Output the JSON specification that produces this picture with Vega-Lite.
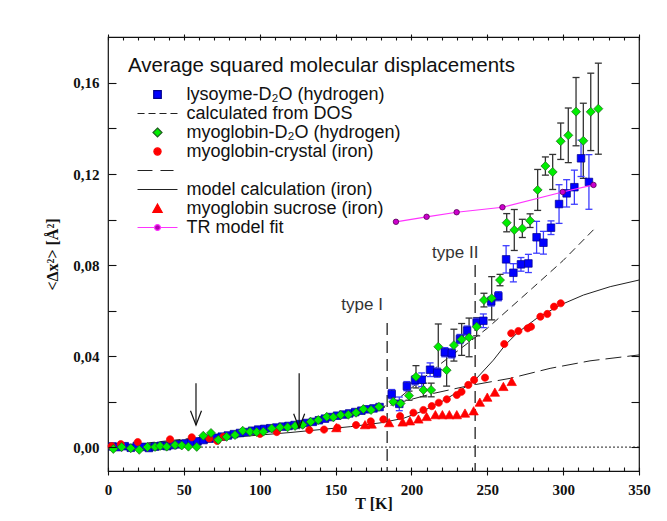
{
"$schema": "https://vega.github.io/schema/vega-lite/v6.json",
"width": 531, "height": 434,
"autosize": {"type": "none"},
"padding": {"left": 108, "top": 37, "right": 28, "bottom": 50},
"background": "white",
"config": {
  "view": {"stroke": "#111", "strokeWidth": 1.2},
  "axis": {"grid": false, "domainColor": "#111", "tickColor": "#111", "domainWidth": 1.2, "tickWidth": 1.1, "ticks": true, "zindex": 2,
    "labelFont": "Liberation Serif", "labelFontWeight": "bold", "labelFontSize": 15, "labelColor": "#111",
    "titleFont": "Liberation Serif", "titleFontWeight": "bold", "titleFontSize": 15, "titleColor": "#111"}
},
"resolve": {"axis": {"x": "independent", "y": "independent"}},
"datasets": {
  "markers": [
    {"s":"lys","T":3,"v":0.0003},{"s":"lys","T":7,"v":0.0},{"s":"lys","T":11,"v":0.0004},{"s":"lys","T":15,"v":-0.0003},{"s":"lys","T":19,"v":0.0005},{"s":"lys","T":23,"v":0.0001},{"s":"lys","T":27,"v":-0.0004},{"s":"lys","T":31,"v":0.0002},{"s":"lys","T":35,"v":0.0006},{"s":"lys","T":39,"v":0.0004},{"s":"lys","T":43,"v":0.0009},{"s":"lys","T":47,"v":0.0012},{"s":"lys","T":51,"v":0.0016},{"s":"lys","T":55,"v":0.0019},{"s":"lys","T":59,"v":0.0025},{"s":"lys","T":63,"v":0.0031},{"s":"lys","T":67,"v":0.0037},{"s":"lys","T":71,"v":0.0041},{"s":"lys","T":75,"v":0.0046},{"s":"lys","T":79,"v":0.0051},{"s":"lys","T":83,"v":0.0057},{"s":"lys","T":87,"v":0.0062},{"s":"lys","T":91,"v":0.0066},{"s":"lys","T":95,"v":0.0072},{"s":"lys","T":99,"v":0.0077},{"s":"lys","T":103,"v":0.008},{"s":"lys","T":107,"v":0.0083},{"s":"lys","T":111,"v":0.0086},{"s":"lys","T":115,"v":0.009},{"s":"lys","T":119,"v":0.0093},{"s":"lys","T":123,"v":0.0097},{"s":"lys","T":127,"v":0.0101},{"s":"lys","T":131,"v":0.0106},{"s":"lys","T":135,"v":0.0111},{"s":"lys","T":139,"v":0.0118},{"s":"lys","T":143,"v":0.0125},{"s":"lys","T":147,"v":0.0132},{"s":"lys","T":151,"v":0.0138},{"s":"lys","T":155,"v":0.0143},{"s":"lys","T":159,"v":0.0148},{"s":"lys","T":163,"v":0.0154},{"s":"lys","T":167,"v":0.016},{"s":"lys","T":171,"v":0.0166},{"s":"lys","T":175,"v":0.017},{"s":"lys","T":179,"v":0.0176},
    {"s":"lys","T":187,"v":0.0233,"lo":0.0213,"hi":0.0253},{"s":"lys","T":192,"v":0.019,"lo":0.016,"hi":0.022},{"s":"lys","T":197,"v":0.0268,"lo":0.0248,"hi":0.0288},{"s":"lys","T":202.4,"v":0.0294,"lo":0.0274,"hi":0.0314},{"s":"lys","T":206.8,"v":0.0296,"lo":0.0266,"hi":0.0326},{"s":"lys","T":212.3,"v":0.034,"lo":0.031,"hi":0.037},{"s":"lys","T":217,"v":0.0327,"lo":0.0307,"hi":0.0347},{"s":"lys","T":222,"v":0.0417,"lo":0.0397,"hi":0.0437},{"s":"lys","T":226.6,"v":0.0412,"lo":0.0392,"hi":0.0432},{"s":"lys","T":232,"v":0.0475,"lo":0.0455,"hi":0.0495},{"s":"lys","T":236.7,"v":0.0512,"lo":0.0492,"hi":0.0532},{"s":"lys","T":243,"v":0.0546,"lo":0.0526,"hi":0.0566},{"s":"lys","T":247.4,"v":0.0555,"lo":0.0525,"hi":0.0585},{"s":"lys","T":252.6,"v":0.064,"lo":0.062,"hi":0.066},{"s":"lys","T":257.3,"v":0.0663,"lo":0.0643,"hi":0.0683},{"s":"lys","T":262.4,"v":0.0825,"lo":0.0765,"hi":0.0885},{"s":"lys","T":267.2,"v":0.0766,"lo":0.0726,"hi":0.0806},{"s":"lys","T":272.2,"v":0.0803,"lo":0.0773,"hi":0.0833},{"s":"lys","T":277.1,"v":0.0807,"lo":0.0767,"hi":0.0847},{"s":"lys","T":282.5,"v":0.0922,"lo":0.0852,"hi":0.0992},{"s":"lys","T":287,"v":0.0898,"lo":0.0848,"hi":0.0948},{"s":"lys","T":292,"v":0.0964,"lo":0.0934,"hi":0.0994},{"s":"lys","T":297.3,"v":0.1068,"lo":0.0983,"hi":0.1153},{"s":"lys","T":302.3,"v":0.1115,"lo":0.1055,"hi":0.1175},{"s":"lys","T":307.4,"v":0.1142,"lo":0.1067,"hi":0.1217},{"s":"lys","T":311.8,"v":0.1269,"lo":0.1189,"hi":0.1349},{"s":"lys","T":317,"v":0.1165,"lo":0.1045,"hi":0.1285},
    {"s":"myoC","T":2.4,"v":0.0004},{"s":"myoC","T":8.4,"v":0.0013},{"s":"myoC","T":19.6,"v":0.0022},{"s":"myoC","T":40.9,"v":0.0034},{"s":"myoC","T":55.2,"v":0.0043},{"s":"myoC","T":66.8,"v":0.0038},{"s":"myoC","T":72,"v":0.0027},{"s":"myoC","T":76,"v":0.0045},{"s":"myoC","T":100.2,"v":0.0058},{"s":"myoC","T":111.2,"v":0.0066},{"s":"myoC","T":132.7,"v":0.0075},{"s":"myoC","T":142.4,"v":0.0077},{"s":"myoC","T":151.2,"v":0.0085},{"s":"myoC","T":163.5,"v":0.0097},{"s":"myoC","T":173.2,"v":0.0113},{"s":"myoC","T":181.5,"v":0.0122},{"s":"myoC","T":192.5,"v":0.0136},{"s":"myoC","T":201.3,"v":0.0151},{"s":"myoC","T":207.9,"v":0.0163},{"s":"myoC","T":213.4,"v":0.018},{"s":"myoC","T":218,"v":0.0195},{"s":"myoC","T":223.3,"v":0.021},{"s":"myoC","T":229.9,"v":0.0229},{"s":"myoC","T":233,"v":0.0243},{"s":"myoC","T":237.5,"v":0.0273},{"s":"myoC","T":241.3,"v":0.0295},{"s":"myoC","T":248.5,"v":0.0305},{"s":"myoC","T":261.2,"v":0.0453},{"s":"myoC","T":265.8,"v":0.05},{"s":"myoC","T":270.5,"v":0.051},{"s":"myoC","T":276.6,"v":0.0522},{"s":"myoC","T":278.8,"v":0.0529},{"s":"myoC","T":285,"v":0.0573},{"s":"myoC","T":289.6,"v":0.0585},{"s":"myoC","T":294,"v":0.0617},{"s":"myoC","T":298.4,"v":0.0632},
    {"s":"suc","T":150.5,"v":0.0084},{"s":"suc","T":169.4,"v":0.0097},{"s":"suc","T":173.8,"v":0.01},{"s":"suc","T":185.3,"v":0.0106},{"s":"suc","T":194.2,"v":0.0109},{"s":"suc","T":199,"v":0.0114},{"s":"suc","T":204.6,"v":0.0122},{"s":"suc","T":210,"v":0.0133},{"s":"suc","T":215.8,"v":0.0141},{"s":"suc","T":220.4,"v":0.0141},{"s":"suc","T":225,"v":0.0141},{"s":"suc","T":229.9,"v":0.0141},{"s":"suc","T":235.3,"v":0.0148},{"s":"suc","T":241,"v":0.0158},{"s":"suc","T":245.1,"v":0.0196},{"s":"suc","T":250,"v":0.0218},{"s":"suc","T":255,"v":0.024},{"s":"suc","T":260.6,"v":0.0265},{"s":"suc","T":266.1,"v":0.0287},
    {"s":"myoD","T":3.5,"v":-0.0008},{"s":"myoD","T":9,"v":0.0},{"s":"myoD","T":15,"v":-0.0005},{"s":"myoD","T":20.6,"v":-0.0012},{"s":"myoD","T":26,"v":0.0},{"s":"myoD","T":31,"v":0.0001},{"s":"myoD","T":34.3,"v":0.0005},{"s":"myoD","T":38.7,"v":0.0002},{"s":"myoD","T":44.2,"v":0.0009},{"s":"myoD","T":48.6,"v":0.0007},{"s":"myoD","T":53,"v":0.0002},{"s":"myoD","T":58.5,"v":0.0001},{"s":"myoD","T":62.8,"v":0.005},{"s":"myoD","T":67.9,"v":0.0062},{"s":"myoD","T":72.7,"v":0.0032},{"s":"myoD","T":78.2,"v":0.0045},{"s":"myoD","T":83.7,"v":0.0053},{"s":"myoD","T":88.8,"v":0.0072},{"s":"myoD","T":93.6,"v":0.0067},{"s":"myoD","T":98,"v":0.0066},{"s":"myoD","T":102.4,"v":0.0068},{"s":"myoD","T":107.9,"v":0.0082},{"s":"myoD","T":113.4,"v":0.0087},{"s":"myoD","T":118.4,"v":0.0087},{"s":"myoD","T":123.3,"v":0.0093},{"s":"myoD","T":128.3,"v":0.0098},{"s":"myoD","T":133.6,"v":0.0111},{"s":"myoD","T":138.6,"v":0.0119},{"s":"myoD","T":144.2,"v":0.0133},{"s":"myoD","T":148.5,"v":0.0131},{"s":"myoD","T":153.4,"v":0.0141},{"s":"myoD","T":158.4,"v":0.0142},{"s":"myoD","T":163.5,"v":0.0151},{"s":"myoD","T":168.3,"v":0.0167},{"s":"myoD","T":173.4,"v":0.0163},{"s":"myoD","T":178.6,"v":0.0177},{"s":"myoD","T":188,"v":0.0199},{"s":"myoD","T":192.9,"v":0.0192},
    {"s":"myoD","T":198.4,"v":0.0226,"lo":0.0206,"hi":0.0246},{"s":"myoD","T":203,"v":0.0309,"lo":0.026,"hi":0.0358},{"s":"myoD","T":207.9,"v":0.0251,"lo":0.0221,"hi":0.0281},{"s":"myoD","T":213,"v":0.0251,"lo":0.0221,"hi":0.0281},{"s":"myoD","T":217.7,"v":0.0441,"lo":0.0341,"hi":0.0541},{"s":"myoD","T":223.2,"v":0.0338,"lo":0.0268,"hi":0.0408},{"s":"myoD","T":228,"v":0.0448,"lo":0.0378,"hi":0.0518},{"s":"myoD","T":233.1,"v":0.0473,"lo":0.0403,"hi":0.0543},{"s":"myoD","T":238,"v":0.0482,"lo":0.0397,"hi":0.0567},{"s":"myoD","T":243,"v":0.0529,"lo":0.0489,"hi":0.0569},{"s":"myoD","T":247.8,"v":0.0646,"lo":0.0616,"hi":0.0676},{"s":"myoD","T":252.9,"v":0.0654,"lo":0.0559,"hi":0.0749},{"s":"myoD","T":258.4,"v":0.0734,"lo":0.0709,"hi":0.0759},{"s":"myoD","T":262.8,"v":0.0986,"lo":0.0946,"hi":0.1026},{"s":"myoD","T":267.8,"v":0.0954,"lo":0.0864,"hi":0.1044},{"s":"myoD","T":273.1,"v":0.0961,"lo":0.0921,"hi":0.1001},{"s":"myoD","T":278.2,"v":0.0995,"lo":0.0965,"hi":0.1025},{"s":"myoD","T":283.2,"v":0.113,"lo":0.104,"hi":0.122},{"s":"myoD","T":288.3,"v":0.1235,"lo":0.1195,"hi":0.1275},{"s":"myoD","T":293.1,"v":0.1209,"lo":0.1132,"hi":0.1286},{"s":"myoD","T":298.4,"v":0.1344,"lo":0.1264,"hi":0.1424},{"s":"myoD","T":303.4,"v":0.137,"lo":0.125,"hi":0.149},{"s":"myoD","T":308.5,"v":0.1474,"lo":0.1324,"hi":0.1624},{"s":"myoD","T":313.3,"v":0.1346,"lo":0.1181,"hi":0.1511},{"s":"myoD","T":318.2,"v":0.1473,"lo":0.1303,"hi":0.1643},{"s":"myoD","T":323.2,"v":0.1487,"lo":0.1287,"hi":0.1687}
  ],
  "model": [{"T":0,"v":0.0003},{"T":20,"v":0.0011},{"T":40,"v":0.002},{"T":60,"v":0.0031},{"T":80,"v":0.0042},{"T":100,"v":0.0053},{"T":120,"v":0.0064},{"T":140,"v":0.0077},{"T":160,"v":0.009},{"T":180,"v":0.0107},{"T":195,"v":0.0127},{"T":208,"v":0.016},{"T":220,"v":0.02},{"T":230,"v":0.024},{"T":241,"v":0.0288},{"T":254,"v":0.0382},{"T":262,"v":0.045},{"T":270,"v":0.0503},{"T":282.6,"v":0.0566},{"T":298,"v":0.0624},{"T":313.3,"v":0.0668},{"T":331,"v":0.0705},{"T":350,"v":0.0734}],
  "dashmodel": [{"T":0,"v":0.0},{"T":50,"v":0.003},{"T":100,"v":0.0078},{"T":150,"v":0.0135},{"T":180,"v":0.017},{"T":190,"v":0.0192},{"T":214.5,"v":0.0236},{"T":236.5,"v":0.0268},{"T":265,"v":0.0302},{"T":291.4,"v":0.0346},{"T":317.7,"v":0.0379},{"T":350,"v":0.0405}],
  "dos": [{"T":0,"v":0.0},{"T":60,"v":0.0042},{"T":120,"v":0.0097},{"T":180,"v":0.0172},{"T":190,"v":0.0205},{"T":220,"v":0.037},{"T":250,"v":0.0522},{"T":280,"v":0.07},{"T":300,"v":0.082},{"T":320,"v":0.0955}],
  "tr": [{"T":189.8,"v":0.099},{"T":210,"v":0.1012},{"T":229.8,"v":0.1032},{"T":260,"v":0.1054},{"T":299.7,"v":0.1121},{"T":320,"v":0.1152}]
},
"layer": [
  {"data": {"values": [{}]},
   "mark": {"type": "rule", "stroke": "#222", "strokeWidth": 1, "strokeDash": [2, 2]},
   "encoding": {"y": {"datum": 0, "type": "quantitative", "scale": {"domain": [-0.0105, 0.1802], "nice": false, "zero": false}, "axis": null}}},
  {"data": {"values": [{}]},
   "mark": {"type": "rule", "stroke": "#222", "strokeWidth": 1.3, "strokeDash": [12, 6]},
   "encoding": {"x": {"datum": 184, "type": "quantitative", "scale": {"domain": [0, 350], "nice": false, "zero": false}, "axis": null},
     "y": {"datum": 0.0545, "type": "quantitative", "scale": {"domain": [-0.0105, 0.1802], "nice": false, "zero": false}, "axis": null},
     "y2": {"datum": -0.0105}}},
  {"data": {"values": [{}]},
   "mark": {"type": "rule", "stroke": "#222", "strokeWidth": 1.3, "strokeDash": [12, 6]},
   "encoding": {"x": {"datum": 242, "type": "quantitative", "scale": {"domain": [0, 350], "nice": false, "zero": false}, "axis": null},
     "y": {"datum": 0.08, "type": "quantitative", "scale": {"domain": [-0.0105, 0.1802], "nice": false, "zero": false}, "axis": null},
     "y2": {"datum": -0.0105}}},
  {"data": {"name": "dos"},
   "mark": {"type": "line", "stroke": "#222", "strokeWidth": 1, "strokeDash": [8, 5]},
   "encoding": {"x": {"field": "T", "type": "quantitative", "scale": {"domain": [0, 350], "nice": false, "zero": false}, "axis": null},
     "y": {"field": "v", "type": "quantitative", "scale": {"domain": [-0.0105, 0.1802], "nice": false, "zero": false},
       "axis": {"orient": "right", "values": [0,0.02,0.04,0.06,0.08,0.1,0.12,0.14,0.16], "offset": -8, "ticks": true, "tickSize": 8, "tickColor": "#111", "tickOpacity": 1, "tickWidth": 1.1, "labels": false, "domain": false, "title": null, "zindex": 2}}}},
  {"data": {"name": "dashmodel"},
   "mark": {"type": "line", "stroke": "#222", "strokeWidth": 1, "strokeDash": [16, 6]},
   "encoding": {"x": {"field": "T", "type": "quantitative", "scale": {"domain": [0, 350], "nice": false, "zero": false}, "axis": null},
     "y": {"field": "v", "type": "quantitative", "scale": {"domain": [-0.0105, 0.1802], "nice": false, "zero": false}, "axis": null}}},
  {"data": {"name": "model"},
   "mark": {"type": "line", "stroke": "#222", "strokeWidth": 1},
   "encoding": {"x": {"field": "T", "type": "quantitative", "scale": {"domain": [0, 350], "nice": false, "zero": false},
       "axis": {"orient": "bottom", "values": [0,10,20,30,40,50,60,70,80,90,100,110,120,130,140,150,160,170,180,190,200,210,220,230,240,250,260,270,280,290,300,310,320,330,340,350],
         "offset": -4, "domain": false, "ticks": true, "tickColor": "#111", "tickOpacity": 1, "tickWidth": 1.1, "zindex": 2,
         "tickSize": {"condition": {"test": "datum.value % 50 === 0", "value": 8}, "value": 4},
         "labelExpr": "datum.value % 50 === 0 ? datum.label : ''", "labelPadding": 7, "format": "d", "labelFlush": false, "labelOverlap": false,
         "title": "T [K]", "titlePadding": -2, "titleFontSize": 16}},
     "y": {"field": "v", "type": "quantitative", "scale": {"domain": [-0.0105, 0.1802], "nice": false, "zero": false},
       "axis": {"orient": "left", "values": [0,0.02,0.04,0.06,0.08,0.1,0.12,0.14,0.16], "offset": -8, "domain": false, "ticks": true, "tickColor": "#111", "tickOpacity": 1, "tickWidth": 1.1, "tickSize": 8, "labelPadding": 9, "zindex": 2,
         "labelExpr": "round(datum.value * 100) % 4 === 0 ? replace(format(datum.value, '.2f'), '.', ',') : ''", "labelFlush": false, "labelOverlap": false,
         "title": "<Δx²> [Å²]", "titlePadding": 12, "titleFontSize": 16}}}},
  {"data": {"name": "markers"}, "transform": [{"filter": "datum.s == 'myoD' && isValid(datum.lo)"}],
   "mark": {"type": "rule", "stroke": "#333", "strokeWidth": 1.3},
   "encoding": {"x": {"field": "T", "type": "quantitative", "scale": {"domain": [0, 350], "nice": false, "zero": false}, "axis": null},
     "y": {"field": "lo", "type": "quantitative", "scale": {"domain": [-0.0105, 0.1802], "nice": false, "zero": false}, "axis": null},
     "y2": {"field": "hi"}}},
  {"data": {"name": "markers"}, "transform": [{"filter": "datum.s == 'myoD' && isValid(datum.lo)"}],
   "mark": {"type": "point", "shape": "M-1,0H1", "size": 49, "filled": false, "stroke": "#333", "strokeWidth": 1.3, "opacity": 1},
   "encoding": {"x": {"field": "T", "type": "quantitative", "scale": {"domain": [0, 350], "nice": false, "zero": false}, "axis": null},
     "y": {"field": "lo", "type": "quantitative", "scale": {"domain": [-0.0105, 0.1802], "nice": false, "zero": false}, "axis": null}}},
  {"data": {"name": "markers"}, "transform": [{"filter": "datum.s == 'myoD' && isValid(datum.lo)"}],
   "mark": {"type": "point", "shape": "M-1,0H1", "size": 49, "filled": false, "stroke": "#333", "strokeWidth": 1.3, "opacity": 1},
   "encoding": {"x": {"field": "T", "type": "quantitative", "scale": {"domain": [0, 350], "nice": false, "zero": false}, "axis": null},
     "y": {"field": "hi", "type": "quantitative", "scale": {"domain": [-0.0105, 0.1802], "nice": false, "zero": false}, "axis": null}}},
  {"data": {"name": "markers"}, "transform": [{"filter": "datum.s == 'lys' && isValid(datum.lo)"}],
   "mark": {"type": "rule", "stroke": "#3d3dff", "strokeWidth": 1.3},
   "encoding": {"x": {"field": "T", "type": "quantitative", "scale": {"domain": [0, 350], "nice": false, "zero": false}, "axis": null},
     "y": {"field": "lo", "type": "quantitative", "scale": {"domain": [-0.0105, 0.1802], "nice": false, "zero": false}, "axis": null},
     "y2": {"field": "hi"}}},
  {"data": {"name": "markers"}, "transform": [{"filter": "datum.s == 'lys' && isValid(datum.lo)"}],
   "mark": {"type": "point", "shape": "M-1,0H1", "size": 49, "filled": false, "stroke": "#3d3dff", "strokeWidth": 1.3, "opacity": 1},
   "encoding": {"x": {"field": "T", "type": "quantitative", "scale": {"domain": [0, 350], "nice": false, "zero": false}, "axis": null},
     "y": {"field": "lo", "type": "quantitative", "scale": {"domain": [-0.0105, 0.1802], "nice": false, "zero": false}, "axis": null}}},
  {"data": {"name": "markers"}, "transform": [{"filter": "datum.s == 'lys' && isValid(datum.lo)"}],
   "mark": {"type": "point", "shape": "M-1,0H1", "size": 49, "filled": false, "stroke": "#3d3dff", "strokeWidth": 1.3, "opacity": 1},
   "encoding": {"x": {"field": "T", "type": "quantitative", "scale": {"domain": [0, 350], "nice": false, "zero": false}, "axis": null},
     "y": {"field": "hi", "type": "quantitative", "scale": {"domain": [-0.0105, 0.1802], "nice": false, "zero": false}, "axis": null}}},
  {"data": {"name": "markers"},
   "mark": {"type": "point", "filled": true, "size": 324, "strokeWidth": 0.7, "opacity": 1},
   "encoding": {
     "x": {"field": "T", "type": "quantitative", "scale": {"domain": [0, 350], "nice": false, "zero": false}, "axis": null},
     "y": {"field": "v", "type": "quantitative", "scale": {"domain": [-0.0105, 0.1802], "nice": false, "zero": false}, "axis": null},
     "shape": {"field": "s", "type": "nominal",
       "scale": {"domain": ["lys","dos","myoD","myoC","dash","model","suc","tr"],
         "range": ["M-3.2,0M-0.42,-0.42H0.42V0.42H-0.42Z", "M-3.2,0M-2.22,0H-1.44M-1,0H-0.22M0.22,0H1M1.44,0H2.22", "M-3.2,0M0,-0.5L0.5,0L0,0.5L-0.5,0Z", "M-3.2,0M0.4,0A0.4,0.4,0,1,1,-0.4,0A0.4,0.4,0,1,1,0.4,0Z", "M-3.2,0M-2.22,0H-0.56M0.33,0H1.78", "M-3.2,0M-2.22,0H2.22", "M-3.2,0M0,-0.5L0.52,0.42L-0.52,0.42Z", "M-3.2,0M-2.22,0H-0.33M0.33,0H2.22M0.33,0A0.33,0.33,0,1,1,-0.33,0A0.33,0.33,0,1,1,0.33,0Z"]},
       "legend": {"orient": "none", "legendX": 20, "legendY": 19, "direction": "vertical", "padding": 0, "zindex": 3,
         "title": "Average squared molecular displacements", "titleFont": "Liberation Sans", "titleFontSize": 20.5, "titleFontWeight": "normal", "titleColor": "#111", "titlePadding": 8, "titleLimit": 600, "titleAnchor": "start",
         "labelFont": "Liberation Sans", "labelFontSize": 18, "labelColor": "#111", "labelLimit": 500, "labelOffset": 19, "symbolOffset": 19.5,
         "symbolSize": 324, "symbolStrokeWidth": 1.2, "symbolOpacity": 1, "rowPadding": 0,
         "labelExpr": "{'lys': 'lysoyme-D₂O (hydrogen)', 'dos': 'calculated from DOS', 'myoD': 'myoglobin-D₂O (hydrogen)', 'myoC': 'myoglobin-crystal (iron)', 'dash': ' ', 'model': 'model calculation (iron)', 'suc': 'myoglobin sucrose (iron)', 'tr': 'TR model  fit'}[datum.label]"}},
     "fill": {"field": "s", "type": "nominal",
       "scale": {"domain": ["lys","dos","myoD","myoC","dash","model","suc","tr"],
         "range": ["#0000ff", "transparent", "#00ee00", "#ff0000", "transparent", "transparent", "#ff0000", "#b000b0"]}},
     "stroke": {"field": "s", "type": "nominal",
       "scale": {"domain": ["lys","dos","myoD","myoC","dash","model","suc","tr"],
         "range": ["#00008b", "#222222", "#1f5f1f", "#ff0000", "#222222", "#222222", "#ff0000", "#ff33ff"]}}
   }},
  {"data": {"name": "tr"},
   "mark": {"type": "line", "stroke": "#ff33ff", "strokeWidth": 1.2},
   "encoding": {"x": {"field": "T", "type": "quantitative", "scale": {"domain": [0, 350], "nice": false, "zero": false},
       "axis": {"orient": "top", "values": [0,10,20,30,40,50,60,70,80,90,100,110,120,130,140,150,160,170,180,190,200,210,220,230,240,250,260,270,280,290,300,310,320,330,340,350],
         "offset": -3, "ticks": true, "tickColor": "#111", "tickOpacity": 1, "tickWidth": 1.1, "zindex": 2, "tickSize": {"condition": {"test": "datum.value % 50 === 0", "value": 6}, "value": 3}, "labels": false, "domain": false, "title": null}},
     "y": {"field": "v", "type": "quantitative", "scale": {"domain": [-0.0105, 0.1802], "nice": false, "zero": false}, "axis": null}}},
  {"data": {"name": "tr"},
   "mark": {"type": "point", "shape": "circle", "filled": true, "size": 30, "fill": "#cc00cc", "stroke": "#550055", "strokeWidth": 0.8, "opacity": 1},
   "encoding": {"x": {"field": "T", "type": "quantitative", "scale": {"domain": [0, 350], "nice": false, "zero": false}, "axis": null},
     "y": {"field": "v", "type": "quantitative", "scale": {"domain": [-0.0105, 0.1802], "nice": false, "zero": false}, "axis": null}}},
  {"data": {"values": [{}]},
   "mark": {"type": "rule", "stroke": "#111", "strokeWidth": 1.2},
   "encoding": {"x": {"datum": 58, "type": "quantitative", "scale": {"domain": [0, 350], "nice": false, "zero": false}, "axis": null},
     "y": {"datum": 0.0281, "type": "quantitative", "scale": {"domain": [-0.0105, 0.1802], "nice": false, "zero": false}, "axis": null},
     "y2": {"datum": 0.0097}}},
  {"data": {"values": [{}]},
   "mark": {"type": "point", "shape": "M-1,-2.6L0,0L1,-2.6", "size": 121, "filled": false, "stroke": "#111", "strokeWidth": 1.2, "opacity": 1},
   "encoding": {"x": {"datum": 58, "type": "quantitative", "scale": {"domain": [0, 350], "nice": false, "zero": false}, "axis": null},
     "y": {"datum": 0.0097, "type": "quantitative", "scale": {"domain": [-0.0105, 0.1802], "nice": false, "zero": false}, "axis": null}}},
  {"data": {"values": [{}]},
   "mark": {"type": "rule", "stroke": "#111", "strokeWidth": 1.2},
   "encoding": {"x": {"datum": 126, "type": "quantitative", "scale": {"domain": [0, 350], "nice": false, "zero": false}, "axis": null},
     "y": {"datum": 0.0325, "type": "quantitative", "scale": {"domain": [-0.0105, 0.1802], "nice": false, "zero": false}, "axis": null},
     "y2": {"datum": 0.0084}}},
  {"data": {"values": [{}]},
   "mark": {"type": "point", "shape": "M-1,-2.6L0,0L1,-2.6", "size": 121, "filled": false, "stroke": "#111", "strokeWidth": 1.2, "opacity": 1},
   "encoding": {"x": {"datum": 126, "type": "quantitative", "scale": {"domain": [0, 350], "nice": false, "zero": false}, "axis": null},
     "y": {"datum": 0.0084, "type": "quantitative", "scale": {"domain": [-0.0105, 0.1802], "nice": false, "zero": false}, "axis": null}}},
  {"data": {"values": [{}]},
   "mark": {"type": "text", "text": "type I", "align": "left", "baseline": "middle", "font": "Liberation Sans", "fontSize": 17, "color": "#333"},
   "encoding": {"x": {"datum": 153.8, "type": "quantitative", "scale": {"domain": [0, 350], "nice": false, "zero": false}, "axis": null},
     "y": {"datum": 0.0624, "type": "quantitative", "scale": {"domain": [-0.0105, 0.1802], "nice": false, "zero": false}, "axis": null}}},
  {"data": {"values": [{}]},
   "mark": {"type": "text", "text": "type II", "align": "left", "baseline": "middle", "font": "Liberation Sans", "fontSize": 17, "color": "#333"},
   "encoding": {"x": {"datum": 213.6, "type": "quantitative", "scale": {"domain": [0, 350], "nice": false, "zero": false}, "axis": null},
     "y": {"datum": 0.0853, "type": "quantitative", "scale": {"domain": [-0.0105, 0.1802], "nice": false, "zero": false}, "axis": null}}}
]
}
